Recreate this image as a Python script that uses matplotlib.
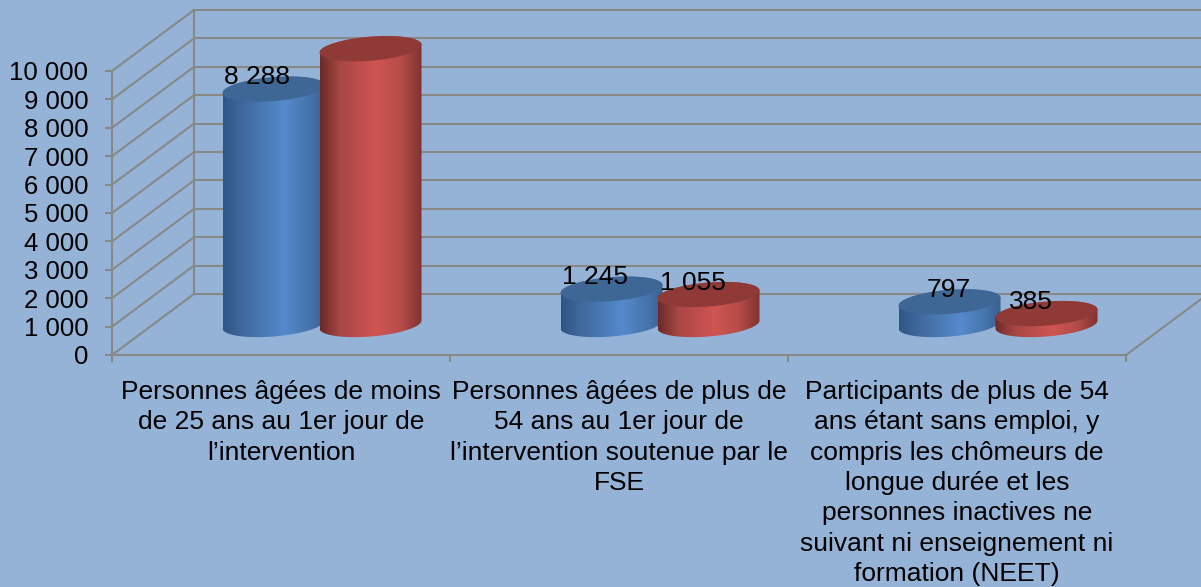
import numpy as np
import matplotlib
matplotlib.use("Agg")
import matplotlib.pyplot as plt
from matplotlib.colors import LinearSegmentedColormap
from matplotlib.patches import Polygon

# ---------------------------
# Data
# ---------------------------
categories = [
    "Personnes âgées de moins\nde 25 ans au 1er jour de\nl’intervention",
    "Personnes âgées de plus de\n54 ans au 1er jour de\nl’intervention soutenue par le\nFSE",
    "Participants de plus de 54\nans étant sans emploi, y\ncompris les chômeurs de\nlongue durée et les\npersonnes inactives ne\nsuivant ni enseignement ni\nformation (NEET)",
]
blue_values = [8288, 1245, 797]
red_values = [9712, 1055, 385]
blue_labels = ["8 288", "1 245", "797"]
red_labels = ["9 712", "1 055", "385"]
y_ticks = [0, 1000, 2000, 3000, 4000, 5000, 6000, 7000, 8000, 9000, 10000]
y_tick_labels = ["0", "1 000", "2 000", "3 000", "4 000", "5 000",
                 "6 000", "7 000", "8 000", "9 000", "10 000"]

# ---------------------------
# Config (pixels of the picture)
# ---------------------------
W, H = 1201, 587
LEFT, RIGHT, BOTTOM, TOP = 112, 1126, 355, 71
BG = "#95B3D7"
GRID = "#888888"
LW = 1.5
px_x = 3 / (RIGHT - LEFT)       # categories per pixel
px_y = 10000 / (BOTTOM - TOP)   # value per pixel
DEPTH_X, DEPTH_Y = 82 * px_x, 61 * px_y

plt.rcParams["font.family"] = ["Liberation Sans", "DejaVu Sans"]

blue_cmap = LinearSegmentedColormap.from_list(
    "b", [(0, "#2F5585"), (0.15, "#3D6598"), (0.6, "#558ACC"), (0.85, "#4674AC"), (1, "#3A6090")])
red_cmap = LinearSegmentedColormap.from_list(
    "r", [(0, "#6C2A28"), (0.2, "#A94744"), (0.55, "#CF5552"), (0.8, "#B54C49"), (1, "#7E3331")])


def cylinder(ax, x, value, cmap, top_color, z):
    """Cylinder standing on the middle of the floor, x in categories."""
    a, b, slope = 51 * px_x, 12 * px_y, 0.078 * 51 * px_y
    x0 = x + DEPTH_X / 2
    y0 = DEPTH_Y / 2
    t = np.linspace(0, np.pi, 60)
    # top half of the top ellipse, then bottom half of the base ellipse
    top_x, top_y = x0 + a * np.cos(t), y0 + value + slope * np.cos(t) + b * np.sin(t)
    low_x, low_y = x0 + a * np.cos(t + np.pi), y0 + slope * np.cos(t + np.pi) + b * np.sin(t + np.pi)
    body = Polygon(np.column_stack([np.r_[top_x, low_x], np.r_[top_y, low_y]]),
                   transform=ax.transData, fill=False, edgecolor="none")
    ax.add_patch(body)
    img = ax.imshow(np.linspace(0, 1, 256)[None, :], cmap=cmap, aspect="auto",
                    extent=[x0 - a, x0 + a, y0 - 2 * b, y0 + value + 2 * b],
                    zorder=z)
    # the top of the tallest bar goes above the axes box
    img.set_clip_box(ax.figure.bbox)
    img.set_clip_path(body)
    t2 = np.linspace(0, 2 * np.pi, 120)
    ax.add_patch(Polygon(
        np.column_stack([x0 + a * np.cos(t2), y0 + value + slope * np.cos(t2) + b * np.sin(t2)]),
        facecolor=top_color, edgecolor="none", zorder=z + 0.1, clip_on=False))
    return x0, y0 + value


# ---------------------------
# Main
# ---------------------------
def main():
    fig = plt.figure(figsize=(W / 100, H / 100), dpi=100, facecolor=BG)
    ax = fig.add_axes([LEFT / W, (H - BOTTOM) / H, (RIGHT - LEFT) / W, (BOTTOM - TOP) / H])
    ax.patch.set_alpha(0)
    xlim, ylim = (-0.5, 2.5), (0, 10000)

    # walls of the 3D box
    for v in y_ticks:
        ax.plot([-0.5, -0.5 + DEPTH_X], [v, v + DEPTH_Y], color=GRID, lw=LW, clip_on=False, zorder=1)
        ax.plot([-0.5 + DEPTH_X, 2.5 + DEPTH_X], [v + DEPTH_Y] * 2, color=GRID, lw=LW, clip_on=False, zorder=1)
    ax.plot([-0.5 + DEPTH_X] * 2, [DEPTH_Y, 10000 + DEPTH_Y], color=GRID, lw=LW, clip_on=False, zorder=1)
    ax.plot([2.5, 2.5 + DEPTH_X], [0, DEPTH_Y], color=GRID, lw=LW, clip_on=False, zorder=1)

    # bars, red sits in front of blue
    shift = 48.5 * px_x
    for i in range(len(categories)):
        bx, by = cylinder(ax, i - shift, blue_values[i], blue_cmap, "#3F6795", 3 + i)
        rx, ry = cylinder(ax, i + shift, red_values[i], red_cmap, "#8F3A37", 3.5 + i)
        dx_blue = -1 if blue_labels[i] == "797" else -16
        ax.annotate(blue_labels[i], (bx, by), xytext=(dx_blue, 12), textcoords="offset pixels",
                    ha="center", va="center", fontsize=19, color="black", zorder=10)
        ax.annotate(red_labels[i], (rx, ry), xytext=(-16, 12), textcoords="offset pixels",
                    ha="center", va="center", fontsize=19, color="black", zorder=10)

    ax.set_xlim(xlim)
    ax.set_ylim(ylim)

    ax.set_yticks(y_ticks)
    ax.set_yticklabels(y_tick_labels, fontsize=18.5)
    ax.tick_params(axis="y", length=5, width=LW, color=GRID, pad=12)

    ax.set_xticks(range(len(categories)))
    ax.set_xticklabels(categories, fontsize=19, linespacing=1.335)
    ax.tick_params(axis="x", which="major", length=0, pad=18)
    ax.set_xticks([-0.5, 0.5, 1.5, 2.5], minor=True)
    ax.tick_params(axis="x", which="minor", length=5, width=LW, color=GRID)

    for name, sp in ax.spines.items():
        if name in ("left", "bottom"):
            sp.set_color(GRID)
            sp.set_linewidth(LW)
        else:
            sp.set_visible(False)

    fig.savefig("out.png", dpi=100, facecolor=BG)


if __name__ == "__main__":
    main()
